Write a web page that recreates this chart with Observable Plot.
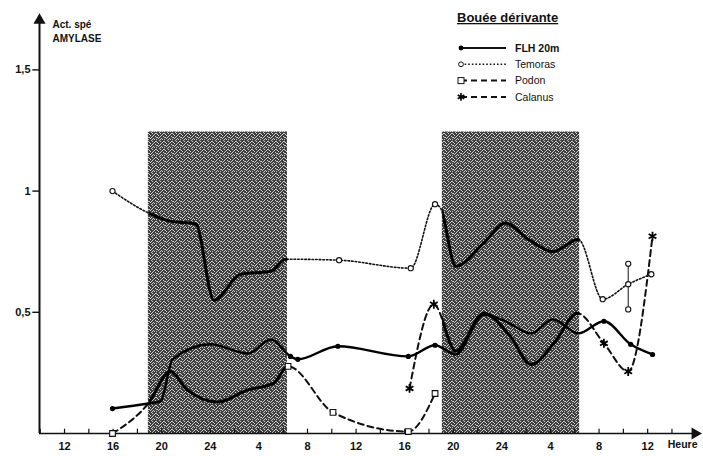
<!DOCTYPE html>
<html><head><meta charset="utf-8">
<script src="https://cdn.jsdelivr.net/npm/d3@7"></script>
<script src="https://cdn.jsdelivr.net/npm/@observablehq/plot@0.6"></script>
<style>
body{margin:0;background:#fff}
#chart{position:relative;width:703px;height:456px}
</style>
</head><body><div id="chart"></div>
<script>
// ---- data (hours counted from 12 h on day 1) ----
const seriesNames = ["FLH 20m", "Temoras", "Podon", "Calanus"];

const flhHour  = [3.95, 6.9, 7.9, 8.9, 12.0, 15.1, 17.0, 18.6, 19.2, 22.5, 28.3, 30.5, 32.2, 34.5, 36.3, 38.4, 40.2, 42.3, 44.4, 46.6, 48.4];
const flhValue = [0.103, 0.124, 0.132, 0.306, 0.368, 0.33, 0.388, 0.318, 0.306, 0.36, 0.318, 0.364, 0.326, 0.49, 0.463, 0.413, 0.471, 0.413, 0.463, 0.368, 0.326];

const temHour  = [3.95, 6.9, 8.7, 10.8, 12.3, 14.5, 17.0, 18.2, 22.6, 28.5, 30.5, 30.95, 32.2, 34.5, 36.3, 38.2, 40.2, 42.3, 44.3, 46.4, 48.3];
const temValue = [1.0, 0.91, 0.876, 0.864, 0.55, 0.657, 0.669, 0.719, 0.715, 0.682, 0.946, 0.93, 0.69, 0.785, 0.868, 0.80, 0.75, 0.80, 0.554, 0.616, 0.657];
const temErrHour = [46.4];
const temErrLow  = [0.512];
const temErrHigh = [0.70];

const podHour  = [3.95, 6.9, 8.7, 10.1, 12.6, 15.1, 17.2, 18.4, 22.1, 28.3, 30.5];
const podValue = [0.0, 0.124, 0.256, 0.18, 0.13, 0.18, 0.207, 0.277, 0.087, 0.008, 0.165];

const calHour  = [28.4, 30.4, 32.2, 34.5, 36.7, 38.4, 40.4, 42.2, 44.4, 46.4, 48.4];
const calValue = [0.186, 0.533, 0.34, 0.496, 0.40, 0.285, 0.38, 0.496, 0.372, 0.256, 0.814];

// night periods (shaded)
const nightStart = [6.9, 31.1];
const nightEnd   = [18.35, 42.4];
const nightTop   = [1.244, 1.244];

// axis ticks
const tickHours  = [0, 4, 8, 12, 16, 20, 24, 28, 32, 36, 40, 44, 48];
const tickLabels = ["12", "16", "20", "24", "4", "8", "12", "16", "20", "24", "4", "8", "12"];
const minorTicks = [-2, 2, 6, 10, 14, 18, 22, 26, 30, 34, 38, 42, 46, 50];
const yTicks      = [0.5, 1, 1.5];
const yTickLabels = ["0,5", "1", "1,5"];

// ---- tables ----
const toRows = (h, v) => h.map((d, i) => ({hour: d, value: v[i]}));
const flh = toRows(flhHour, flhValue);
const tem = toRows(temHour, temValue);
const pod = toRows(podHour, podValue);
const cal = toRows(calHour, calValue);
const nights = nightStart.map((s, i) => ({start: s, end: nightEnd[i], top: nightTop[i]}));
const temErr = temErrHour.map((h, i) => ({hour: h, lo: temErrLow[i], hi: temErrHigh[i]}));
const temErrPts = temErr.flatMap(d => [{hour: d.hour, value: d.lo}, {hour: d.hour, value: d.hi}]);
const inNight = h => nights.some(n => h >= n.start - 0.2 && h <= n.end - 0.1);
const outside = d => !inNight(d.hour);

const x0 = -2.06, x1 = 52.35, yMax = 1.745;
const FONT = "Liberation Sans, Arial, sans-serif";

const plot = Plot.plot({
  width: 703, height: 456,
  marginLeft: 39, marginRight: 3, marginTop: 10, marginBottom: 23,
  x: {domain: [x0, x1], axis: null},
  y: {domain: [0, yMax], axis: null},
  style: {fontFamily: FONT, background: "white", color: "#111"},
  marks: [
    Plot.rect(nights, {x1: "start", x2: "end", y1: 0, y2: "top", fill: "url(#nightTex)"}),
    // axes
    Plot.ruleY([0], {x1: x0, x2: x1 - 0.6, stroke: "#111", strokeWidth: 1.6}),
    Plot.ruleX([x0], {y1: 0, y2: yMax - 0.03, stroke: "#111", strokeWidth: 2}),
    Plot.dot([{hour: x1 - 0.45, value: 0}], {x: "hour", y: "value", symbol: "triangle", r: 4.5, fill: "#111", rotate: 90}),
    Plot.dot([{hour: x0, value: yMax - 0.04}], {x: "hour", y: "value", symbol: "triangle", r: 4.5, fill: "#111"}),
    Plot.ruleX(minorTicks, {x: d => d, y1: 0, y2: 0.018, stroke: "#111", strokeWidth: 1.2}),
    Plot.ruleX(tickHours, {x: d => d, y1: 0, y2: 0.018, stroke: "#111", strokeWidth: 1.2}),
    Plot.ruleY(yTicks, {y: d => d, x1: x0 - 0.55, x2: x0, stroke: "#111", strokeWidth: 1.4}),
    Plot.text(tickHours, {x: d => d, y: 0, text: (d, i) => tickLabels[i], dy: 13, fontSize: 11, fontWeight: "bold", fill: "#111"}),
    Plot.text(yTicks, {x: x0, y: d => d, text: (d, i) => yTickLabels[i], dx: -9, textAnchor: "end", fontSize: 11, fontWeight: "bold", fill: "#111"}),
    Plot.text(["Heure"], {frameAnchor: "bottom-right", dx: -3, dy: 14, textAnchor: "end", fontSize: 10.5, fontWeight: "bold", fill: "#111"}),
    Plot.text(["Act. spé\nAMYLASE"], {frameAnchor: "top-left", dx: 13, dy: 8, lineAnchor: "top", lineHeight: 1.35, textAnchor: "start", fontSize: 10, fontWeight: "bold", fill: "#111"}),
    // series: dashed / dotted outside night
    Plot.line(tem, {x: "hour", y: "value", curve: "monotone-x", stroke: "#111", strokeWidth: 1.6, strokeDasharray: "1.6,2"}),
    Plot.line(pod, {x: "hour", y: "value", curve: "monotone-x", stroke: "#111", strokeWidth: 2, strokeDasharray: "6,4"}),
    Plot.line(cal, {x: "hour", y: "value", curve: "monotone-x", stroke: "#111", strokeWidth: 2, strokeDasharray: "6,4"}),
    // solid look inside the dark bands
    Plot.line(tem, {x: "hour", y: "value", curve: "monotone-x", stroke: "#000", strokeWidth: 3, ariaDescription: "inband"}),
    Plot.line(pod, {x: "hour", y: "value", curve: "monotone-x", stroke: "#000", strokeWidth: 3, ariaDescription: "inband"}),
    Plot.line(cal, {x: "hour", y: "value", curve: "monotone-x", stroke: "#000", strokeWidth: 3, ariaDescription: "inband"}),
    Plot.line(flh, {x: "hour", y: "value", curve: "monotone-x", stroke: "#000", strokeWidth: 2.4}),
    // error bar on Temoras
    Plot.ruleX(temErr, {x: "hour", y1: "lo", y2: "hi", stroke: "#111", strokeWidth: 1}),
    Plot.dot(temErrPts, {x: "hour", y: "value", r: 2.6, fill: "white", stroke: "#111", strokeWidth: 1.1}),
    // markers
    Plot.dot(flh, {x: "hour", y: "value", filter: outside, r: 2.6, fill: "#000"}),
    Plot.dot(tem, {x: "hour", y: "value", filter: outside, r: 2.6, fill: "white", stroke: "#111", strokeWidth: 1.1}),
    Plot.dot(pod, {x: "hour", y: "value", filter: outside, symbol: "square", r: 3.2, fill: "white", stroke: "#111", strokeWidth: 1.1}),
    Plot.dot(cal, {x: "hour", y: "value", filter: outside, symbol: "asterisk", r: 4.2, stroke: "#000", strokeWidth: 1.8})
  ]
});

// texture for the night bands
const svg = d3.select(plot);
const defs = svg.insert("defs", ":first-child");
const pat = defs.append("pattern").attr("id", "nightTex").attr("patternUnits", "userSpaceOnUse")
  .attr("width", 8).attr("height", 8);
pat.append("rect").attr("width", 8).attr("height", 8).attr("fill", "#3e3e3e");
[[0,0],[3,0],[5,1],[1,2],[6,2],[2,3],[4,3],[7,4],[0,5],[3,5],[5,6],[1,7],[6,7],[4,1],[2,6],[7,1],[4,5],[0,3]]
  .forEach(([a,b]) => pat.append("rect").attr("x", a).attr("y", b).attr("width", 1).attr("height", 1).attr("fill", "#cfcfcf"));

// clip for the in-band solid copies
const sx = plot.scale("x"), sy = plot.scale("y");
const clip = defs.append("clipPath").attr("id", "nightClip");
nights.forEach(n => {
  clip.append("rect")
    .attr("x", sx.apply(n.start)).attr("width", sx.apply(n.end) - sx.apply(n.start))
    .attr("y", sy.apply(n.top)).attr("height", sy.apply(0) - sy.apply(n.top));
});
svg.selectAll('g[aria-description="inband"]').attr("clip-path", "url(#nightClip)");

// legend
const lg = svg.append("g").attr("font-family", FONT).attr("fill", "#111").attr("text-anchor", "start");
lg.append("text").attr("x", 457).attr("y", 22).attr("font-size", 13).attr("font-weight", "bold")
  .attr("text-anchor", "start").attr("text-decoration", "underline").text("Bouée dérivante");
const legendStyles = [
  {dash: null, w: 2, mark: "dot"},
  {dash: "1.6,2", w: 1.5, mark: "circle"},
  {dash: "6,4", w: 2, mark: "square"},
  {dash: "6,4", w: 2, mark: "asterisk"}
];
seriesNames.forEach((name, i) => {
  const y = 48 + i * 16.3;
  const st = legendStyles[i];
  const ln = lg.append("line").attr("x1", 461).attr("x2", 506).attr("y1", y).attr("y2", y)
    .attr("stroke", "#111").attr("stroke-width", st.w);
  if (st.dash) ln.attr("stroke-dasharray", st.dash);
  if (st.mark === "dot") lg.append("circle").attr("cx", 461).attr("cy", y).attr("r", 2.4).attr("fill", "#000");
  if (st.mark === "circle") lg.append("circle").attr("cx", 461).attr("cy", y).attr("r", 2.4).attr("fill", "white").attr("stroke", "#111");
  if (st.mark === "square") lg.append("rect").attr("x", 458).attr("y", y - 3).attr("width", 6).attr("height", 6).attr("fill", "white").attr("stroke", "#111");
  if (st.mark === "asterisk") lg.append("path").attr("d", d3.symbol(d3.symbolAsterisk, 40)()).attr("transform", `translate(461,${y})`).attr("stroke", "#000").attr("stroke-width", 1.6).attr("fill", "none");
  lg.append("text").attr("x", 515).attr("y", y).attr("dy", "0.35em").attr("font-size", 10.5)
    .attr("text-anchor", "start").attr("font-weight", i === 0 ? "bold" : "normal").text(name);
});

document.getElementById("chart").appendChild(plot);
</script>
</body></html>
